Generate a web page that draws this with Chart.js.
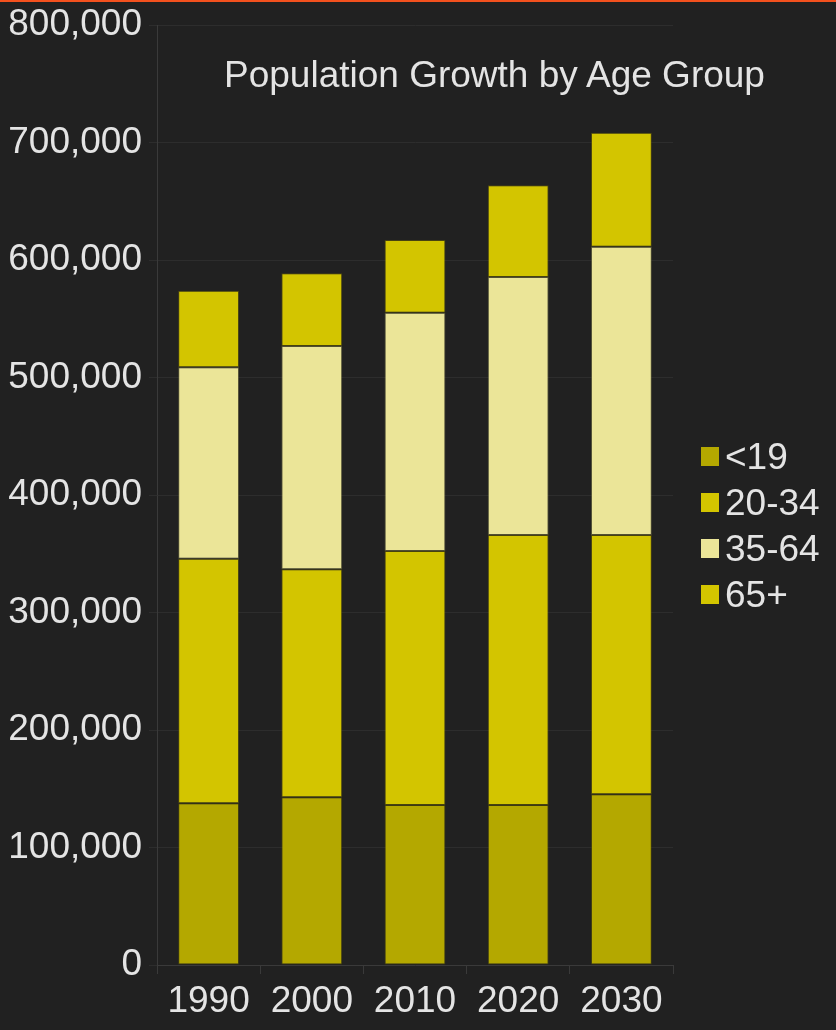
<!DOCTYPE html>
<html><head><meta charset="utf-8">
<script src="https://cdn.jsdelivr.net/npm/chart.js@4"></script>
<style>
html,body{margin:0;padding:0;background:#212121;}
#wrap{position:relative;width:836px;height:1030px;overflow:hidden;background:#212121;}
#topline{position:absolute;left:0;top:0;width:836px;height:2px;background:#f4511e;}
#title{position:absolute;left:224px;top:52px;font:37px "Liberation Sans",Arial,sans-serif;color:#e4e4e4;white-space:nowrap;line-height:46px;}
#legend{position:absolute;left:701px;top:433.5px;font:37px "Liberation Sans",Arial,sans-serif;color:#e4e4e4;}
.row{display:flex;align-items:center;height:46px;line-height:46px;white-space:nowrap;}
.box{width:18px;height:19px;margin-right:6px;flex:none;}
canvas{position:absolute;left:0;top:0;}
</style></head>
<body>
<div id="wrap">
<canvas id="c" width="836" height="1030"></canvas>
<div id="topline"></div>
<div id="title">Population Growth by Age Group</div>
<div id="legend"></div>
</div>
<script>
const categories = ['1990', '2000', '2010', '2020', '2030'];
const seriesNames = ['<19', '20-34', '35-64', '65+'];
const under19 = [137600, 142700, 136200, 136200, 145300];
const age20to34 = [208200, 194100, 216100, 229800, 220700];
const age35to64 = [162900, 190000, 202800, 219500, 245300];
const age65plus = [65200, 61900, 61900, 78100, 97000];
const yTicks = [0, 100000, 200000, 300000, 400000, 500000, 600000, 700000, 800000];

const seriesValues = [under19, age20to34, age35to64, age65plus];
const colors = ['#b4a800', '#d3c500', '#ebe598', '#d3c500'];
const borders = ['rgba(90,84,0,0.5)', 'rgba(110,100,0,0.5)', 'rgba(120,116,70,0.55)', 'rgba(110,100,0,0.5)'];

const FONT = '"Liberation Sans", Arial, sans-serif';
const txt = '#e4e4e4';

const datasets = seriesNames.map((n, i) => ({
  label: n,
  data: seriesValues[i],
  backgroundColor: colors[i],
  borderColor: borders[i],
  borderWidth: 1,
  borderSkipped: false,
  categoryPercentage: 1,
  barPercentage: 0.59
}));

new Chart(document.getElementById('c'), {
  type: 'bar',
  data: { labels: categories, datasets },
  options: {
    responsive: false,
    animation: false,
    devicePixelRatio: 1,
    layout: { padding: { top: 25, right: 163, bottom: 0, left: 0 } },
    plugins: { legend: { display: false }, title: { display: false }, tooltip: { enabled: false } },
    scales: {
      x: {
        stacked: true,
        grid: { display: true, drawOnChartArea: false, drawTicks: true, tickLength: 9, color: '#3a3a3a', offset: true },
        border: { display: true, color: '#3a3a3a' },
        ticks: { color: txt, font: { family: FONT, size: 37 }, padding: 6 },
        afterFit: s => { s.height = 65; s.paddingLeft = 0; s.paddingRight = 0; }
      },
      y: {
        stacked: true,
        min: 0, max: 800000,
        afterBuildTicks: s => { s.ticks = yTicks.map(v => ({ value: v })); },
        grid: { color: '#2d2d2d', tickLength: 8, drawTicks: true },
        border: { display: true, color: '#3a3a3a' },
        ticks: { color: txt, font: { family: FONT, size: 37 }, padding: 7,
          callback: v => v.toLocaleString('en-US') },
        afterFit: s => { s.width = 157; s.paddingTop = 0; s.paddingBottom = 0; }
      }
    }
  }
});

const lg = document.getElementById('legend');
seriesNames.forEach((n, i) => {
  const r = document.createElement('div'); r.className = 'row';
  const b = document.createElement('span'); b.className = 'box'; b.style.background = colors[i];
  const t = document.createElement('span'); t.textContent = n;
  r.appendChild(b); r.appendChild(t); lg.appendChild(r);
});
</script>
</body></html>
